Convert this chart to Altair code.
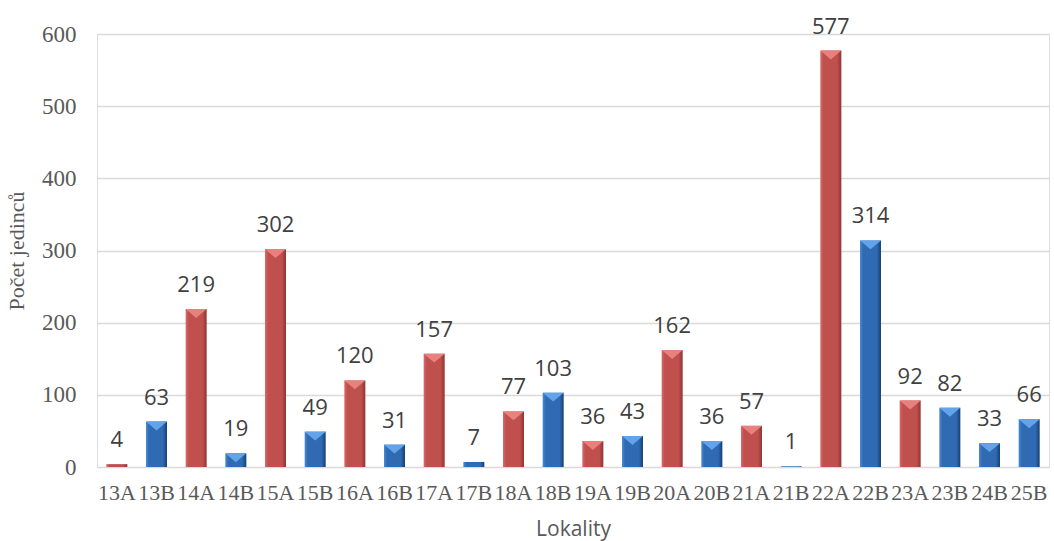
import altair as alt
import pandas as pd

categories = ["13A", "13B", "14A", "14B", "15A", "15B", "16A", "16B", "17A", "17B",
              "18A", "18B", "19A", "19B", "20A", "20B", "21A", "21B", "22A", "22B",
              "23A", "23B", "24B", "25B"]
values = [4, 63, 219, 19, 302, 49, 120, 31, 157, 7,
          77, 103, 36, 43, 162, 36, 57, 1, 577, 314,
          92, 82, 33, 66]
groups = [c[-1] for c in categories]

df = pd.DataFrame({"Lokality": categories, "value": values, "group": groups})

red_grad = alt.Gradient(
    gradient="linear", x1=0, x2=1, y1=0, y2=0,
    stops=[alt.GradientStop(color="#d86a67", offset=0),
           alt.GradientStop(color="#c0504d", offset=0.15),
           alt.GradientStop(color="#c0504d", offset=0.8),
           alt.GradientStop(color="#8e3532", offset=1)])
blue_grad = alt.Gradient(
    gradient="linear", x1=0, x2=1, y1=0, y2=0,
    stops=[alt.GradientStop(color="#4b8ad6", offset=0),
           alt.GradientStop(color="#2f6ab3", offset=0.15),
           alt.GradientStop(color="#2f6ab3", offset=0.8),
           alt.GradientStop(color="#173f73", offset=1)])

xenc = alt.X("Lokality:N", sort=categories,
             scale=alt.Scale(paddingInner=0.47, paddingOuter=0.235),
             axis=alt.Axis(title="Lokality", labelAngle=0, labelFont="Liberation Serif",
                           labelFontSize=22, labelColor="#595959", labelPadding=15,
                           ticks=False, domain=False, titleFont="Open Sans",
                           titleFontSize=21, titleFontWeight="normal", titleColor="#595959",
                           titlePadding=15))
yenc = alt.Y("value:Q", scale=alt.Scale(domain=[0, 600], nice=False),
             axis=alt.Axis(title="Počet jedinců", values=[0, 100, 200, 300, 400, 500, 600],
                           labelFont="Liberation Serif", labelFontSize=23,
                           labelColor="#595959", labelPadding=21, ticks=False,
                           domain=False, gridColor="#d9d9d9", gridWidth=1.3,
                           titleFont="Liberation Serif", titleFontSize=22,
                           titleFontWeight="normal", titleColor="#595959",
                           titlePadding=13))

base = alt.Chart(df).encode(x=xenc, y=yenc)

bars_a = base.transform_filter("datum.group == 'A'").mark_bar(color=red_grad)
bars_b = base.transform_filter("datum.group == 'B'").mark_bar(color=blue_grad)

tri_a = base.transform_filter("datum.group == 'A' && datum.value >= 12").mark_point(
    shape="M-1,0L1,0L0,0.85Z", filled=True, size=441, opacity=1, color="#e8807d")
tri_b = base.transform_filter("datum.group == 'B' && datum.value >= 12").mark_point(
    shape="M-1,0L1,0L0,0.85Z", filled=True, size=441, opacity=1, color="#62a3ea")

labels = base.mark_text(baseline="alphabetic", dy=-17, font="Open Sans", fontSize=22,
                        color="#404040").encode(text="value:Q")

chart = alt.layer(bars_a, bars_b, tri_a, tri_b, labels).properties(
    width=952, height=433,
    autosize=alt.AutoSizeParams(type="none"),
    padding={"left": 97, "top": 34, "right": 5, "bottom": 74},
).configure_view(stroke=None).configure(background="white")

chart.save("out.html", embed_options={"renderer": "svg", "actions": False})
